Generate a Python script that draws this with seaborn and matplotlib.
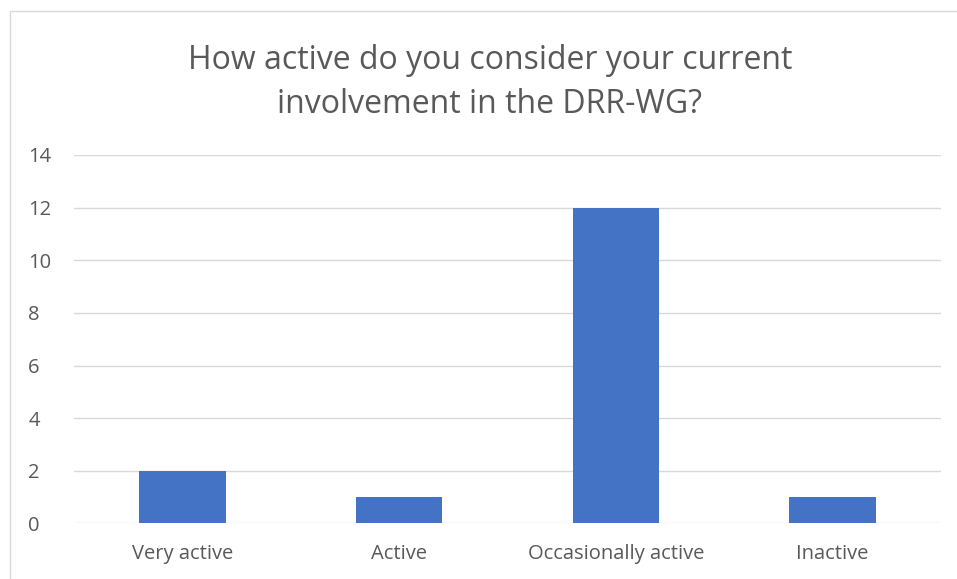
import matplotlib
matplotlib.use('Agg')
import matplotlib.pyplot as plt
import seaborn as sns
import pandas as pd
from matplotlib.patches import Rectangle

categories = ['Very active', 'Active', 'Occasionally active', 'Inactive']
counts = [2, 1, 12, 1]
yticks = [0, 2, 4, 6, 8, 10, 12, 14]
title = 'How active do you consider your current\ninvolvement in the DRR-WG?'

sns.set_theme(style='white')
plt.rcParams['font.family'] = ['Open Sans', 'DejaVu Sans']

df = pd.DataFrame({'category': categories, 'count': counts})

fig = plt.figure(figsize=(9.57, 5.79), dpi=100)
ax = fig.add_axes([0.0773, 0.0959, 0.906, 0.6364])
sns.barplot(data=df, x='category', y='count', color='#4472C4', width=0.4,
            saturation=1, ax=ax, zorder=3, linewidth=0)

ax.set_ylim(0, 14)
ax.set_yticks(yticks)
ax.set_xlim(-0.5, 3.5)
ax.grid(axis='y', color='#D9D9D9', linewidth=1, zorder=0)
for s in ax.spines.values():
    s.set_visible(False)
ax.set_xlabel('')
ax.set_ylabel('')
ax.tick_params(axis='both', length=0, labelsize=14.5, colors='#595959')
ax.tick_params(axis='x', pad=15)
ax.tick_params(axis='y', pad=33)
for lbl in ax.get_yticklabels():
    lbl.set_horizontalalignment('left')

fig.text(0.512, 0.857, title, ha='center', va='center', fontsize=23,
         color='#595959', linespacing=1.45)

fig.patches.append(Rectangle((10 / 957, -0.1), 1.2, 1 - 11 / 579 + 0.1,
                             transform=fig.transFigure, fill=False,
                             edgecolor='#D9D9D9', linewidth=1))

fig.savefig('out.png', dpi=100)
